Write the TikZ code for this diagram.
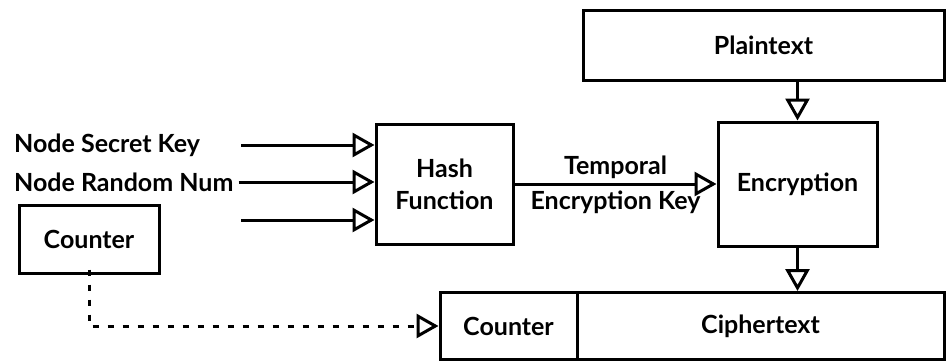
\documentclass[tikz,border=0pt]{standalone}
\usepackage{fontspec}
\setmainfont{Lato}
\usetikzlibrary{arrows.meta}

\begin{document}
\begin{tikzpicture}[x=1pt, y=-1pt,
  box/.style={draw, line width=3pt, inner sep=0pt, font=\fontsize{25}{30}\selectfont\bfseries},
  lbl/.style={inner sep=0pt, font=\fontsize{25}{30}\selectfont\bfseries},
  arr/.style={line width=3pt, -{Triangle[open, length=22pt 0 1, width=24pt 0 1]}}]
\useasboundingbox (0,0) rectangle (950,362); % frame
\node[box, minimum width=361pt, minimum height=70pt] (plain) at (763.5,45) {Plaintext};
\node[box, minimum width=159pt, minimum height=124pt] (enc) at (797.5,184) {Encryption};
\node[box, minimum width=137pt, minimum height=120pt, align=center] (hash) at (444.5,184) {Hash\\[2pt]Function};
\node[box, minimum width=140pt, minimum height=68pt] (cnt) at (89,239) {Counter};
\node[box, minimum width=137pt, minimum height=67pt] (ctr) at (508.5,326) {Counter};
\node[box, minimum width=367pt, minimum height=67pt] (ciph) at (760.5,326) {Ciphertext};
\node[lbl, anchor=west] (key) at (14,145) {Node Secret Key}; % inputs
\node[lbl, anchor=west] (rnd) at (14,182) {Node Random Num};
\coordinate (in1) at (241,145);
\coordinate (in3) at (241,220);
\draw[arr] (in1) -- (in1 -| hash.west);
\draw[arr] ([xshift=5pt]rnd.east) -- (rnd -| hash.west);
\draw[arr] (in3) -- (in3 -| hash.west);
\draw[arr] (hash.east) -- (enc.west) node[lbl, midway, above=4pt] {Temporal} node[lbl, midway, below=5pt] {Encryption Key}; % temporal key
\draw[arr] (plain.south -| enc.north) -- (enc.north);
\draw[arr] (enc.south) -- (enc.south |- ciph.north);
\draw[arr, dash pattern=on 6pt off 9pt] ([yshift=5pt]cnt.south) |- (ctr.west); % counter copy
\end{tikzpicture}
\end{document}
